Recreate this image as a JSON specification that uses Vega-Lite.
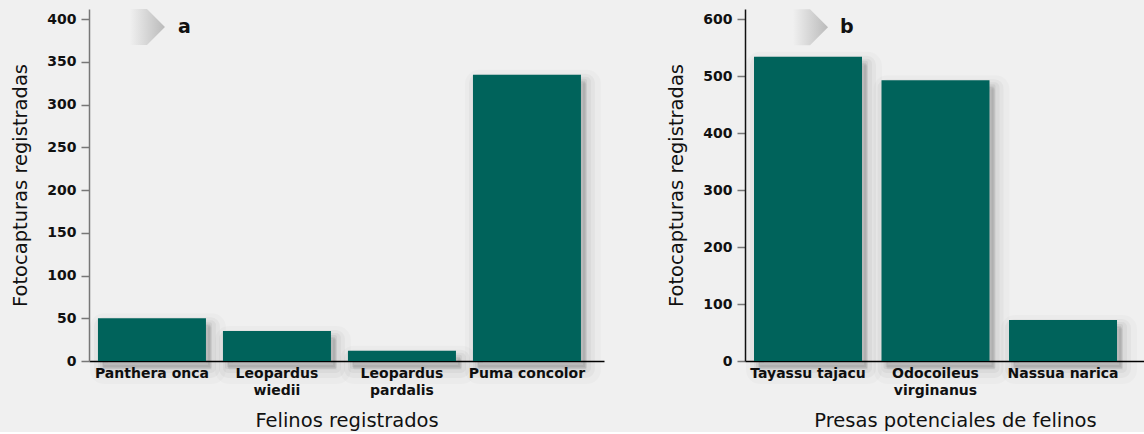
{
  "$schema": "https://vega.github.io/schema/vega-lite/v6.json",
  "background": "#f0f0f0",
  "padding": {"left": 10, "top": 8, "right": 0, "bottom": 2},
  "spacing": 62,
  "config": {
    "font": "DejaVu Sans",
    "view": {"stroke": null},
    "axis": {"grid": false, "labelColor": "#111", "titleColor": "#111", "labelFont": "DejaVu Sans", "titleFont": "DejaVu Sans"},
    "axisX": {"labelAngle": 0, "ticks": false, "domainColor": "#000", "domainWidth": 1.5, "labelFontSize": 14, "labelFontWeight": "bold", "labelPadding": 5, "labelLineHeight": 17, "titleFontSize": 19.5, "titleFontWeight": "normal", "titlePadding": 14, "zindex": 1,
      "labelExpr": "indexof(datum.label, 'Leopardus') == 0 || indexof(datum.label, 'Odocoileus') == 0 ? split(datum.label, ' ') : datum.label"},
    "axisY": {"tickSize": 8, "tickColor": "#777", "tickWidth": 1.5, "domainWidth": 1.5, "labelFontSize": 14, "labelFontWeight": "bold", "labelPadding": 5, "titleFontSize": 19.5, "titleFontWeight": "normal", "titlePadding": 16}
  },
  "hconcat": [
    {
      "width": 515,
      "height": 352,
      "data": {"values": [
        {"especie": "Panthera onca", "n": 50},
        {"especie": "Leopardus wiedii", "n": 35},
        {"especie": "Leopardus pardalis", "n": 12},
        {"especie": "Puma concolor", "n": 335}
      ]},
      "encoding": {
        "x": {"field": "especie", "type": "nominal", "sort": null, "scale": {"paddingInner": 0.136, "paddingOuter": 0.128, "align": 0.28}, "axis": {"title": "Felinos registrados"}},
        "y": {"field": "n", "type": "quantitative", "scale": {"domain": [0, 412], "nice": false}, "axis": {"title": "Fotocapturas registradas", "values": [0, 50, 100, 150, 200, 250, 300, 350, 400], "domainColor": "#777"}}
      },
      "layer": [
        {"mark": {"type": "bar", "color": "#000", "fillOpacity": 0.02, "stroke": "#000", "strokeOpacity": 0.02, "strokeWidth": 28, "strokeJoin": "round", "xOffset": 6, "yOffset": 9, "y2Offset": 4}},
        {"mark": {"type": "bar", "color": "#000", "fillOpacity": 0.03, "stroke": "#000", "strokeOpacity": 0.03, "strokeWidth": 18, "strokeJoin": "round", "xOffset": 5, "yOffset": 8, "y2Offset": 4}},
        {"mark": {"type": "bar", "color": "#000", "fillOpacity": 0.04, "stroke": "#000", "strokeOpacity": 0.04, "strokeWidth": 10, "strokeJoin": "round", "xOffset": 5, "yOffset": 7, "y2Offset": 3}},
        {"mark": {"type": "bar", "color": "#000", "fillOpacity": 0.05, "stroke": "#000", "strokeOpacity": 0.05, "strokeWidth": 4, "strokeJoin": "round", "xOffset": 4, "yOffset": 6, "y2Offset": 2}},
        {"mark": {"type": "bar", "color": "#00635b"}},
        {
          "data": {"values": [{"especie": "Panthera onca", "letra": "a", "n": 391}]},
          "mark": {"type": "point", "filled": true, "opacity": 1, "size": 1296, "xOffset": -5, "shape": "M-0.95,-1L0,-1L1,0L0,1L-0.95,1Z",
            "color": {"gradient": "linear", "x1": 0, "x2": 1, "y1": 0, "y2": 0, "stops": [{"offset": 0, "color": "#f0f0f0"}, {"offset": 1, "color": "#bababa"}]}}
        },
        {
          "data": {"values": [{"especie": "Panthera onca", "letra": "a", "n": 391}]},
          "mark": {"type": "text", "align": "left", "baseline": "middle", "dx": 26, "fontSize": 19, "fontWeight": "bold", "color": "#111"},
          "encoding": {"text": {"field": "letra"}}
        }
      ]
    },
    {
      "width": 420,
      "height": 352,
      "data": {"values": [
        {"especie": "Tayassu tajacu", "n": 534},
        {"especie": "Odocoileus virginanus", "n": 493},
        {"especie": "Nassua narica", "n": 72}
      ]},
      "encoding": {
        "x": {"field": "especie", "type": "nominal", "sort": null, "scale": {"paddingInner": 0.153, "paddingOuter": 0.2235, "align": 0.158}, "axis": {"title": "Presas potenciales de felinos"}},
        "y": {"field": "n", "type": "quantitative", "scale": {"domain": [0, 618], "nice": false}, "axis": {"title": "Fotocapturas registradas", "values": [0, 100, 200, 300, 400, 500, 600], "domainColor": "#111"}}
      },
      "layer": [
        {"mark": {"type": "bar", "color": "#000", "fillOpacity": 0.02, "stroke": "#000", "strokeOpacity": 0.02, "strokeWidth": 28, "strokeJoin": "round", "xOffset": 6, "yOffset": 9, "y2Offset": 4}},
        {"mark": {"type": "bar", "color": "#000", "fillOpacity": 0.03, "stroke": "#000", "strokeOpacity": 0.03, "strokeWidth": 18, "strokeJoin": "round", "xOffset": 5, "yOffset": 8, "y2Offset": 4}},
        {"mark": {"type": "bar", "color": "#000", "fillOpacity": 0.04, "stroke": "#000", "strokeOpacity": 0.04, "strokeWidth": 10, "strokeJoin": "round", "xOffset": 5, "yOffset": 7, "y2Offset": 3}},
        {"mark": {"type": "bar", "color": "#000", "fillOpacity": 0.05, "stroke": "#000", "strokeOpacity": 0.05, "strokeWidth": 4, "strokeJoin": "round", "xOffset": 4, "yOffset": 6, "y2Offset": 2}},
        {"mark": {"type": "bar", "color": "#00635b"}},
        {
          "data": {"values": [{"especie": "Tayassu tajacu", "letra": "b", "n": 586}]},
          "mark": {"type": "point", "filled": true, "opacity": 1, "size": 1296, "xOffset": 2, "shape": "M-0.95,-1L0,-1L1,0L0,1L-0.95,1Z",
            "color": {"gradient": "linear", "x1": 0, "x2": 1, "y1": 0, "y2": 0, "stops": [{"offset": 0, "color": "#f0f0f0"}, {"offset": 1, "color": "#bababa"}]}}
        },
        {
          "data": {"values": [{"especie": "Tayassu tajacu", "letra": "b", "n": 586}]},
          "mark": {"type": "text", "align": "left", "baseline": "middle", "dx": 32, "fontSize": 19, "fontWeight": "bold", "color": "#111"},
          "encoding": {"text": {"field": "letra"}}
        }
      ]
    }
  ]
}
